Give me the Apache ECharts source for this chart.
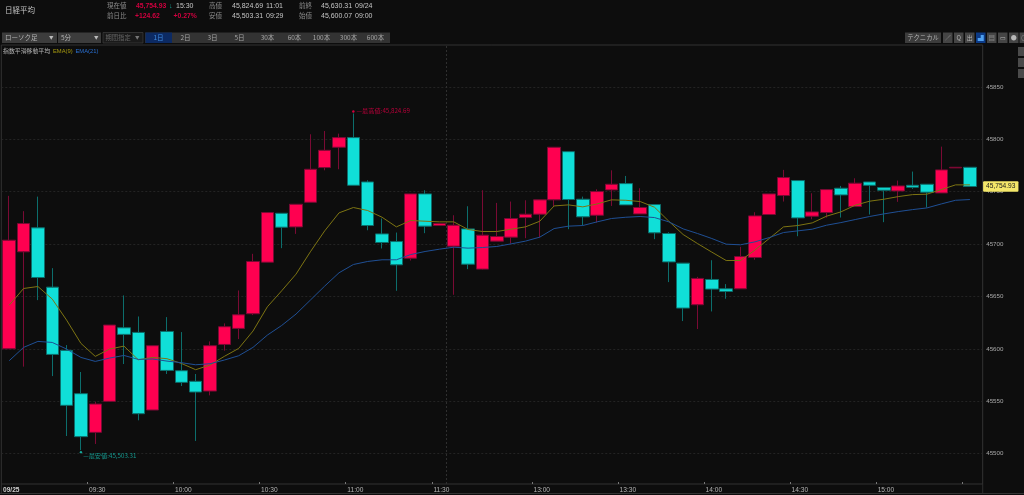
<!DOCTYPE html>
<html><head><meta charset="utf-8">
<style>html,body{margin:0;padding:0;background:#0d0d0d;overflow:hidden}#c{width:1024px;height:495px}</style>
<script src="https://cdn.jsdelivr.net/npm/echarts@6/dist/echarts.min.js"></script>
</head><body><div id="c"></div>
<script>
const times = ["09:00","09:05","09:10","09:15","09:20","09:25","09:30","09:35","09:40","09:45","09:50","09:55","10:00","10:05","10:10","10:15","10:20","10:25","10:30","10:35","10:40","10:45","10:50","10:55","11:00","11:05","11:10","11:15","11:20","11:25","11:30","12:30","12:35","12:40","12:45","12:50","12:55","13:00","13:05","13:10","13:15","13:20","13:25","13:30","13:35","13:40","13:45","13:50","13:55","14:00","14:05","14:10","14:15","14:20","14:25","14:30","14:35","14:40","14:45","14:50","14:55","15:00","15:05","15:10","15:15","15:20","15:25","15:30"];
const opens = [45600.07,45692.6,45715.5,45658.9,45598.5,45557.2,45520.3,45549.9,45620.1,45615.7,45541.6,45616.6,45579.1,45569,45559.7,45604.2,45619.5,45633.5,45682.7,45729.4,45716.4,45739.9,45773,45792.4,45801.6,45759.3,45709.7,45702.4,45686.5,45747.9,45717.7,45698,45714.5,45676.1,45702.8,45706.6,45725.3,45728.5,45742.2,45788.2,45742.8,45727.5,45751.7,45757.7,45728.8,45737.7,45710.1,45681.8,45642.1,45666.2,45657.3,45657.3,45687.2,45728.2,45746.3,45760.6,45726.6,45730.1,45753.3,45735.8,45759.3,45753.9,45750.7,45756.1,45757.1,45748.8,45772.7,45773.3];
const closes = [45703.7,45719.6,45668.1,45594.7,45546.1,45516.2,45547.3,45622.7,45613.8,45538.1,45603,45579.4,45568,45558.8,45603,45621.1,45632.5,45683.4,45730.1,45716.1,45738,45771.4,45789.5,45801.6,45756.1,45717.7,45701.5,45680.2,45747.9,45717.1,45719.6,45718,45680.8,45708.5,45707.2,45724.4,45728.5,45742.2,45792.4,45742.5,45726,45750.1,45757.1,45737.4,45734.9,45710.7,45683,45638.9,45667.2,45657,45654.8,45688.1,45726.9,45747.9,45763.5,45725,45730.7,45752,45746.9,45758.1,45756.1,45751.4,45755.5,45754.2,45749.5,45770.8,45773.3,45754.93];
const lows = [45600.07,45583,45646.5,45574,45516.8,45503.31,45509.2,45549.9,45585.5,45531.8,45541.6,45576,45564.5,45512.1,45555.6,45598.2,45609.3,45632.2,45682.7,45696.1,45709.7,45739.9,45770.4,45771.4,45756.1,45713.2,45695.8,45655.4,45684.3,45710.4,45717.7,45651.6,45676.1,45675.7,45702.8,45700.5,45705.6,45706.2,45735.5,45714.2,45717.7,45720.5,45736.4,45737.4,45728.8,45704.7,45663.7,45626.5,45618.9,45635.7,45647.8,45657.3,45685,45728,45740.6,45707.5,45723.7,45725.3,45725.3,45735.8,45728.2,45720.9,45740.3,45752.6,45734.9,45748.8,45772.7,45754.93];
const highs = [45746,45731.4,45745.3,45677,45603.6,45577.9,45549.6,45622.7,45651,45630.9,45603,45630.3,45616,45576,45607.1,45624.3,45655.7,45690.7,45730.1,45729.4,45738,45804.8,45807.9,45805.4,45824.69,45760.9,45724.4,45711,45747.9,45751.4,45719.6,45727.5,45736.1,45751.4,45739.3,45740.6,45741.8,45742.2,45792.4,45788.2,45745.3,45752.3,45770.4,45765,45753.3,45737.7,45711.3,45681.8,45668.7,45684.6,45661.8,45697.4,45730.4,45747.9,45770.8,45760.6,45748.5,45752,45755.5,45762.8,45759.3,45753.9,45760.6,45769.2,45757.1,45793,45773.3,45773.3];
const ema9 = [45641.7,45657.6,45659.5,45647.5,45627.4,45605.2,45592.8,45599.8,45602.6,45589.6,45591.8,45590.6,45586.1,45580.1,45584.5,45592.8,45600.4,45617,45640.1,45655.4,45671.3,45692.6,45712.6,45729.8,45734.9,45732,45725.6,45716.4,45722.5,45721.8,45721.2,45721.2,45713.9,45712,45712,45714.2,45716.4,45721.8,45736.4,45737.4,45735.5,45738.3,45742.2,45741.8,45740.6,45735.2,45721.8,45709.1,45700.5,45692.3,45684.3,45684.3,45694.2,45705.3,45716.4,45717.7,45720.2,45726.6,45730.7,45737.1,45740.9,45742.8,45745.3,45747.2,45747.6,45752,45756.5,45756.5];
const ema21 = [45588.7,45601.4,45607.1,45606.1,45599.8,45591.8,45588,45591.2,45593.7,45589.9,45590.3,45588.3,45586.8,45584.8,45585.8,45589.3,45593.4,45601.4,45613.1,45622.3,45633.2,45646.5,45659.9,45672.6,45680.5,45683.4,45685,45685,45690,45692.9,45695.1,45697,45696.1,45696.7,45697.7,45700.2,45702.8,45706.6,45714.8,45717.1,45717.7,45721.2,45724.4,45725.6,45726.3,45725.3,45721.2,45714.5,45710.1,45705.3,45699.9,45699.3,45702.1,45706.2,45711,45712.6,45714.2,45718,45720.5,45723.4,45726.3,45728.8,45731,45732.9,45734.5,45738.3,45741.8,45742.5];
const yTicks = [45500,45550,45600,45650,45700,45750,45800,45850];
const tickTimes = ["09:30","10:00","10:30","11:00","11:30","13:00","13:30","14:00","14:30","15:00","15:30"];
const labelTimes = ["09:00","09:30","10:00","10:30","11:00","11:30","13:00","13:30","14:00","14:30","15:00"];
const sessionBreak = "12:30";
const dateLabel = "09/25";
const lastPrice = 45754.93, dayHigh = 45824.69, dayLow = 45503.31;
const candles = times.map((t,i)=>[opens[i],closes[i],lows[i],highs[i]]);

const UI='"Noto Sans CJK JP","Liberation Sans",sans-serif';
const NUM='"Liberation Sans",sans-serif';
const yMin=45471, yMax=45890;
const fmt=v=>v.toLocaleString('en-US',{minimumFractionDigits:2});

function txt(x,y,s,fill,size,extra){return {type:'text',silent:true,x,y,style:Object.assign({text:s,fill:fill||'#999',font:(size||7)+'px '+UI,textVerticalAlign:'middle'},extra||{})};}
function btn(x,y,w,h,fill){return {type:'rect',silent:true,shape:{x,y,width:w,height:h},style:{fill}};}
const g=[];
g.push(txt(5,10,'日経平均','#c4c4c4',7.5));
const rowA=5.7,rowB=15.7;
[['現在値',107,rowA],['前日比',107,rowB],['高値',209,rowA],['安値',209,rowB],['前終',299,rowA],['始値',299,rowB]].forEach(a=>g.push(txt(a[1],a[2],a[0],'#8a8a8a',6.5)));
const V='#c6c6c6',R='#d0003f';
const nf='bold 6.8px '+NUM;
g.push(txt(136,rowA,'45,754.93',R,7,{font:nf}),txt(169,rowA,'↓','#16a89a',7,{font:'7px '+NUM}),txt(176,rowA,'15:30',V,7,{font:'7px '+NUM}));
g.push(txt(135,rowB,'+124.62',R,7,{font:nf}),txt(173.5,rowB,'+0.27%',R,7,{font:nf}));
g.push(txt(232,rowA,'45,824.69',V,7,{font:'7px '+NUM}),txt(266,rowA,'11:01',V,7,{font:'7px '+NUM}));
g.push(txt(232,rowB,'45,503.31',V,7,{font:'7px '+NUM}),txt(266,rowB,'09:29',V,7,{font:'7px '+NUM}));
g.push(txt(321,rowA,'45,630.31',V,7,{font:'7px '+NUM}),txt(355,rowA,'09/24',V,7,{font:'7px '+NUM}));
g.push(txt(321,rowB,'45,600.07',V,7,{font:'7px '+NUM}),txt(355,rowB,'09:00',V,7,{font:'7px '+NUM}));
// toolbar
const by=32.5,bh=10.5;
g.push(btn(2,by,55,bh,'#3c3c3c'),txt(5,by+5.2,'ローソク足','#b4b4b4',6.5),txt(49,by+5.2,'▼','#bbb',4.5));
g.push(btn(58,by,43,bh,'#3c3c3c'),txt(61,by+5.2,'5分','#b4b4b4',6.5),txt(94,by+5.2,'▼','#bbb',4.5));
g.push(btn(103,by,40,bh,'#1a1a1a'),{type:'rect',silent:true,shape:{x:103,y:by,width:40,height:bh},style:{fill:'none',stroke:'#444',lineWidth:0.6}},txt(105.5,by+5.2,'期間指定','#666',6.3),txt(135,by+5.2,'▼','#777',4.5));
g.push(btn(145,by,245,bh,'#333333'),btn(145.5,by,26.5,bh,'#0c2a63'));
[['1日',158.5,'#3f8ce0'],['2日',185.5],['3日',212.5],['5日',239.5],['30本',267.5],['60本',294.5],['100本',321.5],['300本',348.5],['600本',375.5]].forEach(a=>g.push(txt(a[1],by+5.2,a[0],a[2]||'#a4a4a4',6.5,{textAlign:'center'})));
g.push(btn(905,by,36,bh,'#3c3c3c'),txt(923,by+5.2,'テクニカル','#b4b4b4',6.3,{textAlign:'center'}));
const icons=['／','Q','出','▟','▤','▭','●','○'];
[943,954,965,976,987,998,1009,1019.5].forEach((x,i)=>g.push(btn(x,by,9.5,bh,i===3?'#0c3a86':'#454545'),txt(x+4.75,by+5.2,icons[i],i===3?'#4fa0f0':'#b8b8b8',6,{textAlign:'center'})));
g.push(btn(1018,47,6,9,'#4a4a4a'),btn(1018,58,6,9,'#4a4a4a'),btn(1018,69,6,9,'#4a4a4a'));
g.push(txt(3,51,'指数平滑移動平均','#b4b4b4',5.9),txt(53,51,'EMA(9)','#a89b10',5.8,{font:'5.8px '+NUM}),txt(75.5,51,'EMA(21)','#2a6fd0',5.8,{font:'5.8px '+NUM}));
g.push(btn(982.2,484,1,10,'#2e2e2e'),btn(0,493,1024,1,'#333'),btn(0.8,484,1,10,'#333'));

const chart=echarts.init(document.getElementById('c'),null,{renderer:'canvas'});
const RED='#ff0050',CY='#10dfd8';
const gridLeft=1.3,bandW=14.35,gridTop=45,gridBottom=484,gridRight=982.7;
// the frame grid shares the candle bands: one unit = one 5-minute slot, a slot starts half a unit before its index
const slotStart=t=>times.indexOf(t)-0.5;
chart.setOption({
 animation:false,backgroundColor:'#0d0d0d',
 graphic:g,
 grid:[
  {left:gridLeft,top:gridTop,width:bandW*times.length,height:gridBottom-gridTop,show:false},
  {left:gridLeft,top:gridTop,width:gridRight-gridLeft,height:gridBottom-gridTop,show:true,borderColor:'#333',borderWidth:1,backgroundColor:'transparent'}
 ],
 xAxis:[
  {type:'category',gridIndex:0,data:times,boundaryGap:true,
   axisLine:{show:false},axisTick:{show:false},splitLine:{show:false},
   axisLabel:{show:true,margin:2.2,fontFamily:NUM,fontSize:6.6,color:'#b4b4b4',padding:[0,0,0,4],hideOverlap:false,
     interval:(i,v)=>labelTimes.includes(v),
     formatter:(v,i)=>i===0?'{d|'+dateLabel+'}':v,
     rich:{d:{fontFamily:NUM,fontSize:6.6,fontWeight:'bold',color:'#d0d0d0'}}}},
  {type:'value',gridIndex:1,min:-0.5,max:-0.5+(gridRight-gridLeft)/bandW,
   axisLine:{show:false},axisLabel:{show:false},splitLine:{show:false},
   axisTick:{show:true,inside:true,length:2,lineStyle:{color:'#777',width:1},customValues:tickTimes.map(slotStart)}}
 ],
 yAxis:[
  {type:'value',gridIndex:0,min:yMin,max:yMax,show:false,splitLine:{show:false}},
  {type:'value',gridIndex:1,position:'right',min:yMin,max:yMax,
   axisLine:{show:false},
   axisTick:{show:false,customValues:yTicks},
   splitLine:{show:true,lineStyle:{color:'#2a2a2a',type:[2,2],width:0.8}},
   axisLabel:{customValues:yTicks,margin:3.5,fontFamily:NUM,fontSize:6.2,color:'#a8a8a8',formatter:v=>String(v)}}
 ],
 series:[
  {type:'candlestick',xAxisIndex:0,yAxisIndex:0,data:candles,barWidth:13,clip:false,
   itemStyle:{color:RED,color0:CY,borderColor:'#7a0a34',borderColor0:'#0c6e6c',borderWidth:1},
   markPoint:{symbol:'circle',symbolSize:2.4,silent:true,animation:false,data:[
     {coord:[times[24],dayHigh],symbolOffset:[0,-2],itemStyle:{color:'#d3003f'},label:{show:true,position:'right',distance:2,offset:[0,-1],fontFamily:UI,fontSize:6.2,color:'#b8003a',formatter:'—最高値:'+fmt(dayHigh)}},
     {coord:[times[5],dayLow],symbolOffset:[0,2],itemStyle:{color:'#16a89a'},label:{show:true,position:'right',distance:1,offset:[0,4],fontFamily:UI,fontSize:6.2,color:'#149a90',formatter:'—最安値:'+fmt(dayLow)}}
   ]},
   markLine:{silent:true,symbol:'none',animation:false,z:20,lineStyle:{color:'transparent',width:0},
    data:[{yAxis:lastPrice,label:{show:true,opacity:1,position:'end',distance:6,formatter:fmt(lastPrice),fontFamily:NUM,fontSize:6.6,color:'#1a1a1a',backgroundColor:'#f4e76a',padding:[2,3,1.5,3],borderRadius:1}}]}},
  {type:'line',name:'EMA(9)',xAxisIndex:0,yAxisIndex:0,data:ema9,showSymbol:false,smooth:false,lineStyle:{color:'#7d7412',width:1},z:5},
  {type:'line',name:'EMA(21)',xAxisIndex:0,yAxisIndex:0,data:ema21,showSymbol:false,smooth:false,lineStyle:{color:'#1f4f94',width:1},z:5},
  {type:'line',xAxisIndex:1,yAxisIndex:1,data:[[0,yMin]],silent:true,showSymbol:false,lineStyle:{opacity:0},z:1,
   markLine:{silent:true,symbol:'none',animation:false,label:{show:false},lineStyle:{color:'#2f2f2f',type:[2,2],width:1},
    data:[{xAxis:slotStart(sessionBreak)}]}}
 ]
});
</script></body></html>
